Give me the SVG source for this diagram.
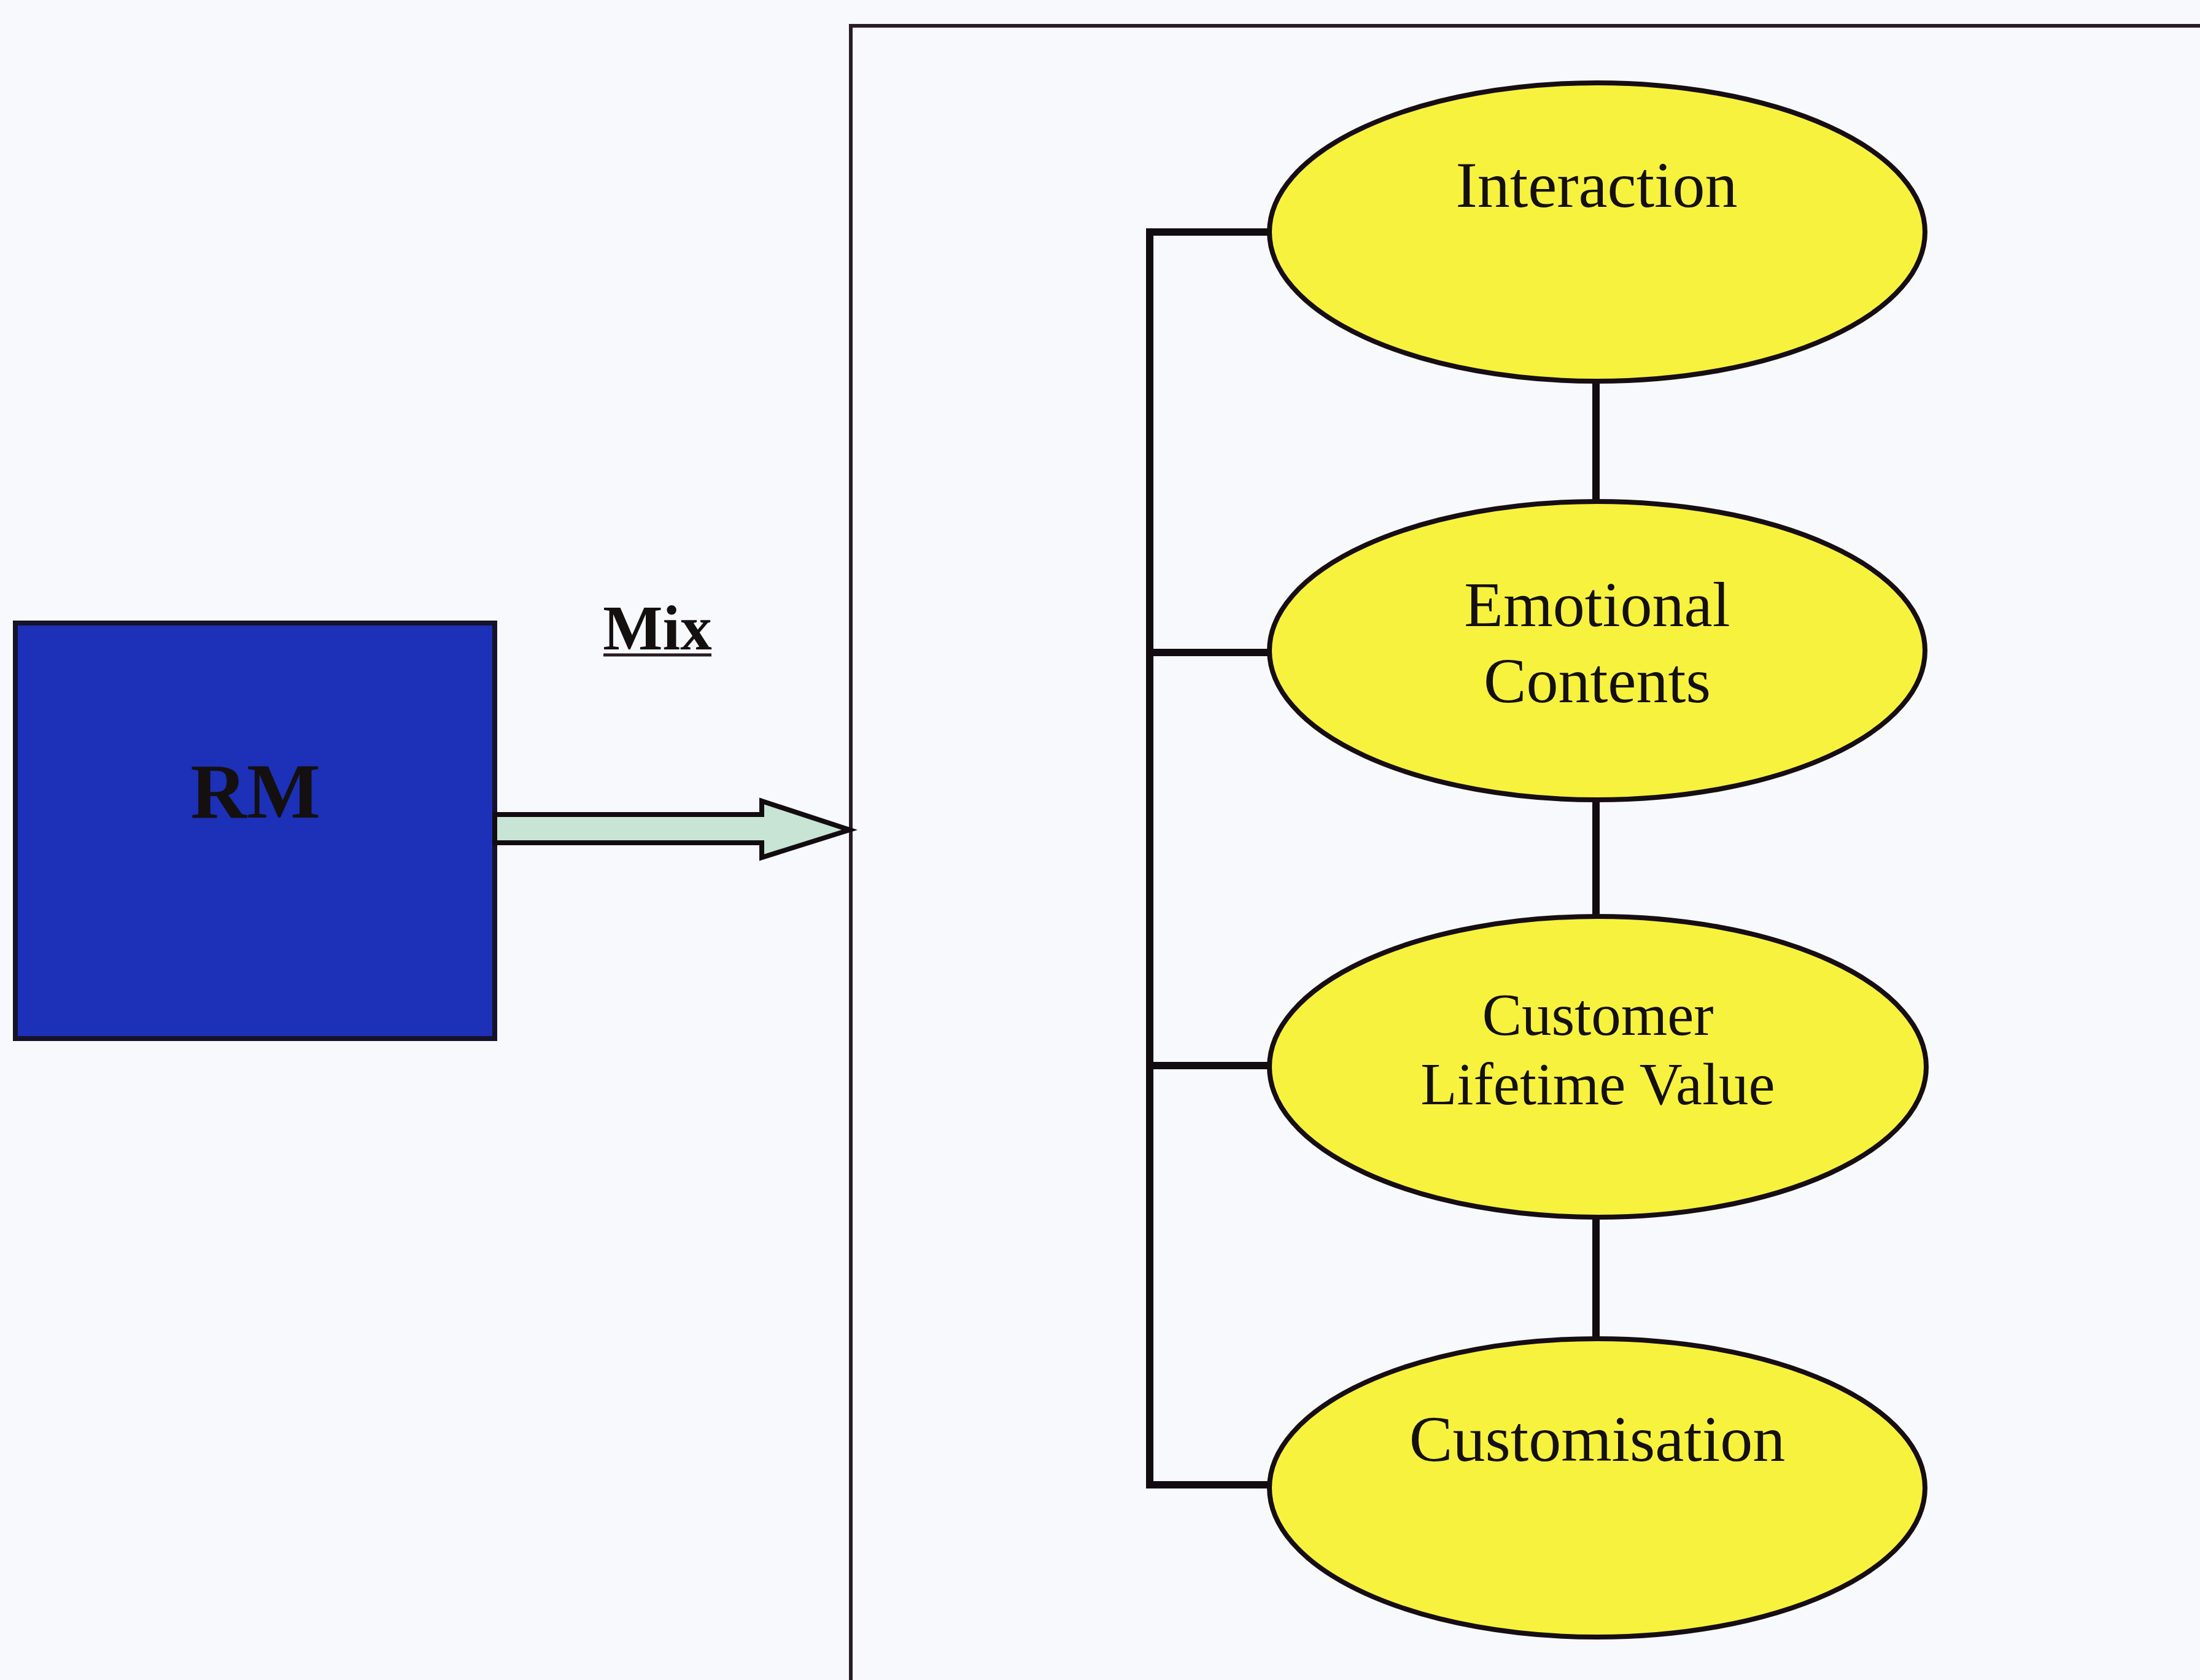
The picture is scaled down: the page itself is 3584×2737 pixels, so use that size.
<svg xmlns="http://www.w3.org/2000/svg" width="3584" height="2737" viewBox="0 0 3584 2737">
  <style>
    .frame { fill: none; stroke: #2a1c28; stroke-width: 6; }
    .link { fill: none; stroke: #120c10; stroke-width: 12; stroke-linecap: square; }
    .oval { fill: #f7f23e; stroke: #160e12; stroke-width: 8; }
    .label { font-family: "Liberation Serif", "Times New Roman", serif; fill: #141010; text-anchor: middle; }
    .bold { font-weight: bold; }
  </style>

  <!-- page -->
  <rect x="0" y="0" width="3584" height="2737" fill="#f7f9fc"/>

  <!-- enclosing frame (runs off the right and bottom edges) -->
  <rect class="frame" x="1386" y="42" width="2400" height="2900"/>

  <!-- RM block -->
  <g id="rm">
    <rect x="25" y="1015" width="781" height="677" fill="#1c30b8" stroke="#15122a" stroke-width="8"/>
    <text class="label bold" x="416" y="1332" font-size="127">RM</text>
  </g>

  <!-- Mix label -->
  <g id="mix">
    <text class="label bold" x="1071" y="1058" font-size="103">Mix</text>
    <line x1="983" y1="1067" x2="1159" y2="1067" stroke="#2a1c22" stroke-width="5"/>
  </g>

  <!-- connectors -->
  <g id="connectors">
    <!-- block arrow from RM into the frame -->
    <path d="M806,1327 H1241 V1305 L1384,1352 L1241,1397 V1373 H806 Z" fill="#c8e4d4" stroke="#120c10" stroke-width="8" stroke-linejoin="miter"/>
    <!-- bracket joining all four ovals -->
    <path class="link" d="M2068,378 H1873 V2419 H2068"/>
    <line class="link" x1="1873" y1="1063" x2="2068" y2="1063"/>
    <line class="link" x1="1873" y1="1736" x2="2068" y2="1736"/>
    <!-- chain between consecutive ovals -->
    <line class="link" x1="2600" y1="621" x2="2600" y2="817"/>
    <line class="link" x1="2600" y1="1303" x2="2600" y2="1493"/>
    <line class="link" x1="2600" y1="1983" x2="2600" y2="2181"/>
  </g>

  <g id="interaction">
    <ellipse class="oval" cx="2602" cy="378" rx="534" ry="243"/>
    <text class="label" x="2601" y="337" font-size="106">Interaction</text>
  </g>

  <g id="emotional-contents">
    <ellipse class="oval" cx="2602" cy="1060" rx="534" ry="243"/>
    <text class="label" x="2602" y="1020" font-size="104">Emotional</text>
    <text class="label" x="2602" y="1144" font-size="104">Contents</text>
  </g>

  <g id="customer-lifetime-value">
    <ellipse class="oval" cx="2603" cy="1738" rx="535" ry="245"/>
    <text class="label" x="2603" y="1686" font-size="97">Customer</text>
    <text class="label" x="2603" y="1799" font-size="97">Lifetime Value</text>
  </g>

  <g id="customisation">
    <ellipse class="oval" cx="2602" cy="2424" rx="534" ry="243"/>
    <text class="label" x="2602" y="2380" font-size="106">Customisation</text>
  </g>
</svg>
